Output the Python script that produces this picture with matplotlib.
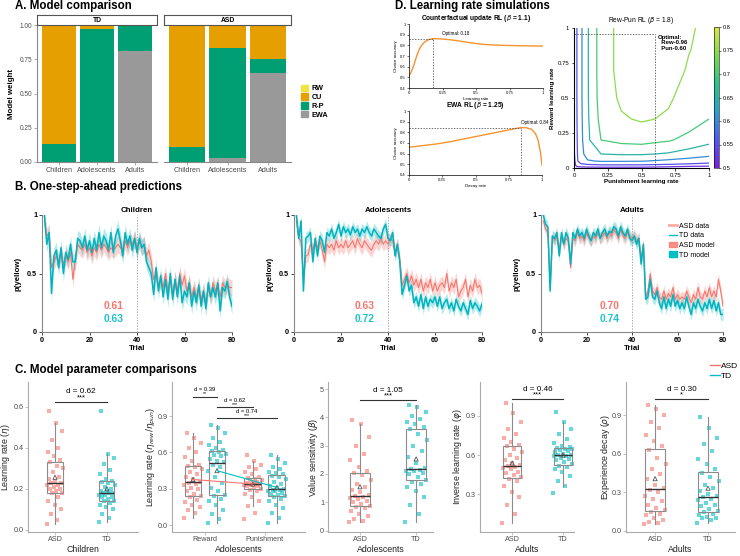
import numpy as np
import matplotlib
matplotlib.use("Agg")
import matplotlib.pyplot as plt
from matplotlib.colors import LinearSegmentedColormap, Normalize
from matplotlib.cm import ScalarMappable
from matplotlib.lines import Line2D
from matplotlib.patches import Patch

plt.rcParams['font.family'] = ['Liberation Sans', 'DejaVu Sans']
plt.rcParams['mathtext.fontset'] = 'dejavusans'

# ---------------- data ----------------
# A. model weights, per age group (Children, Adolescents, Adults)
age_groups = ['Children', 'Adolescents', 'Adults']
model_names = ['EWA', 'R-P', 'CU', 'RW']  # stacked bottom -> top
model_colors = ['#999999', '#009E73', '#E69F00', '#F0E442']
td_ewa = [0.0, 0.0, 0.81]
td_rp = [0.13, 0.97, 0.18]
td_cu = [0.87, 0.02, 0.01]
td_rw = [0.0, 0.01, 0.0]
asd_ewa = [0.0, 0.03, 0.65]
asd_rp = [0.11, 0.80, 0.10]
asd_cu = [0.89, 0.17, 0.24]
asd_rw = [0.0, 0.0, 0.01]

# D. simulations
cf_rate = [0, 0.02, 0.04, 0.06, 0.08, 0.1, 0.12, 0.15, 0.18, 0.21, 0.25, 0.3,
           0.35, 0.4, 0.45, 0.5, 0.55, 0.6, 0.7, 0.8, 0.9, 1.0]
cf_acc = [0.51, 0.56, 0.63, 0.71, 0.77, 0.81, 0.835, 0.855, 0.863, 0.862, 0.859, 0.853,
          0.845, 0.836, 0.826, 0.817, 0.81, 0.805, 0.80, 0.797, 0.795, 0.793]
ewa_decay = [0, 0.1, 0.2, 0.3, 0.4, 0.5, 0.6, 0.7, 0.78, 0.84, 0.88, 0.92, 0.95, 0.97, 0.99, 1.0]
ewa_acc = [0.66, 0.675, 0.69, 0.71, 0.735, 0.76, 0.785, 0.81, 0.83, 0.845, 0.843, 0.83,
           0.79, 0.73, 0.6, 0.49]
pun_grid = [0, 0.02, 0.05, 0.1, 0.2, 0.35, 0.5, 0.7, 0.85, 1.0]
rew_grid = [0, 0.02, 0.05, 0.1, 0.2, 0.35, 0.5, 0.7, 0.85, 1.0]
rewpun_acc = [
    [0.50, 0.51, 0.51, 0.51, 0.51, 0.51, 0.51, 0.505, 0.50, 0.50],
    [0.505, 0.53, 0.535, 0.54, 0.545, 0.545, 0.545, 0.54, 0.535, 0.53],
    [0.51, 0.54, 0.575, 0.595, 0.605, 0.605, 0.603, 0.59, 0.58, 0.57],
    [0.515, 0.543, 0.58, 0.625, 0.65, 0.655, 0.655, 0.645, 0.63, 0.615],
    [0.52, 0.545, 0.585, 0.64, 0.70, 0.715, 0.72, 0.705, 0.685, 0.665],
    [0.525, 0.547, 0.588, 0.643, 0.715, 0.745, 0.755, 0.745, 0.725, 0.70],
    [0.53, 0.548, 0.59, 0.645, 0.722, 0.758, 0.77, 0.755, 0.735, 0.715],
    [0.53, 0.548, 0.59, 0.645, 0.725, 0.765, 0.78, 0.772, 0.745, 0.725],
    [0.53, 0.548, 0.59, 0.645, 0.725, 0.765, 0.785, 0.778, 0.752, 0.735],
    [0.53, 0.548, 0.59, 0.645, 0.725, 0.765, 0.785, 0.78, 0.755, 0.74],
]
contour_levels = [0.52, 0.55, 0.6, 0.65, 0.7, 0.75]
opt_rew, opt_pun = 0.96, 0.60

# B. p(yellow) per trial
children_asd = [0.95, 0.82, 0.85, 0.55, 0.6, 0.65, 0.6, 0.68, 0.58, 0.65,
                0.6, 0.68, 0.45, 0.62, 0.75, 0.72, 0.7, 0.75, 0.68, 0.72,
                0.65, 0.72, 0.68, 0.75, 0.7, 0.75, 0.72, 0.68, 0.72, 0.7,
                0.72, 0.75, 0.72, 0.7, 0.78, 0.72, 0.78, 0.75, 0.8, 0.72,
                0.78, 0.72, 0.75, 0.65, 0.7, 0.6, 0.45, 0.5, 0.4, 0.45,
                0.38, 0.5, 0.35, 0.45, 0.32, 0.45, 0.35, 0.5, 0.4, 0.48,
                0.35, 0.42, 0.3, 0.38, 0.3, 0.38, 0.28, 0.35, 0.25, 0.38,
                0.3, 0.42, 0.35, 0.4, 0.3, 0.42, 0.38, 0.4, 0.38, 0.38]
children_td = [1.0, 0.75, 0.85, 0.33, 0.65, 0.7, 0.55, 0.72, 0.5, 0.68,
               0.62, 0.75, 0.6, 0.6, 0.8, 0.78, 0.72, 0.82, 0.7, 0.78,
               0.68, 0.8, 0.7, 0.85, 0.72, 0.82, 0.78, 0.7, 0.85, 0.68,
               0.82, 0.88, 0.78, 0.65, 0.85, 0.75, 0.82, 0.7, 0.8, 0.68,
               0.8, 0.72, 0.75, 0.6, 0.55, 0.5, 0.32, 0.55, 0.35, 0.48,
               0.3, 0.45, 0.28, 0.5, 0.28, 0.45, 0.3, 0.48, 0.25, 0.35,
               0.3, 0.42, 0.22, 0.35, 0.25, 0.4, 0.22, 0.35, 0.2, 0.42,
               0.3, 0.38, 0.3, 0.42, 0.18, 0.38, 0.35, 0.43, 0.3, 0.22]
adol_asd = [0.95, 0.8, 0.78, 0.45, 0.65, 0.66, 0.75, 0.7, 0.78, 0.72,
            0.78, 0.7, 0.6, 0.75, 0.72, 0.75, 0.7, 0.78, 0.72, 0.75,
            0.72, 0.78, 0.72, 0.75, 0.78, 0.72, 0.8, 0.75, 0.72, 0.78,
            0.75, 0.72, 0.7, 0.75, 0.78, 0.75, 0.8, 0.75, 0.78, 0.75,
            0.8, 0.78, 0.68, 0.75, 0.62, 0.4, 0.45, 0.5, 0.42, 0.48,
            0.4, 0.45, 0.38, 0.45, 0.35, 0.42, 0.38, 0.45, 0.35, 0.42,
            0.35, 0.4, 0.42, 0.38, 0.5, 0.35, 0.42, 0.38, 0.45, 0.3,
            0.35, 0.38, 0.45, 0.3, 0.4, 0.35, 0.45, 0.38, 0.4, 0.33]
adol_td = [1.0, 0.8, 0.95, 0.35, 0.8, 0.82, 0.85, 0.6, 0.8, 0.65,
           0.82, 0.78, 0.68, 0.85, 0.82, 0.88, 0.8, 0.85, 0.92, 0.82,
           0.9, 0.85, 0.88, 0.83, 0.9, 0.85, 0.88, 0.82, 0.88, 0.85,
           0.9, 0.85, 0.82, 0.88, 0.85, 0.82, 0.8, 0.88, 0.92, 0.8,
           0.78, 0.85, 0.65, 0.75, 0.6, 0.32, 0.4, 0.48, 0.35, 0.4,
           0.25, 0.3, 0.22, 0.32, 0.2, 0.3, 0.22, 0.28, 0.25, 0.3,
           0.22, 0.3, 0.2, 0.25, 0.28, 0.2, 0.25, 0.18, 0.28, 0.22,
           0.18, 0.25, 0.2, 0.15, 0.27, 0.2, 0.25, 0.22, 0.18, 0.24]
adult_asd = [0.95, 0.88, 0.85, 0.4, 0.82, 0.78, 0.82, 0.7, 0.82, 0.75,
             0.8, 0.78, 0.55, 0.8, 0.78, 0.85, 0.8, 0.82, 0.78, 0.85,
             0.8, 0.78, 0.82, 0.8, 0.85, 0.8, 0.82, 0.85, 0.8, 0.85,
             0.82, 0.88, 0.85, 0.8, 0.88, 0.82, 0.8, 0.85, 0.82, 0.8,
             0.82, 0.78, 0.8, 0.62, 0.75, 0.3, 0.35, 0.5, 0.35, 0.32,
             0.38, 0.3, 0.28, 0.35, 0.28, 0.33, 0.3, 0.38, 0.28, 0.32,
             0.28, 0.3, 0.28, 0.35, 0.3, 0.25, 0.32, 0.28, 0.38, 0.3,
             0.28, 0.35, 0.3, 0.38, 0.3, 0.35, 0.3, 0.45, 0.35, 0.22]
adult_td = [1.0, 0.92, 0.9, 0.35, 0.82, 0.8, 0.85, 0.65, 0.85, 0.75,
            0.85, 0.8, 0.58, 0.85, 0.8, 0.88, 0.82, 0.85, 0.8, 0.88,
            0.82, 0.78, 0.85, 0.82, 0.88, 0.8, 0.85, 0.88, 0.82, 0.86,
            0.85, 0.9, 0.88, 0.82, 0.9, 0.85, 0.82, 0.88, 0.8, 0.78,
            0.82, 0.75, 0.8, 0.58, 0.75, 0.28, 0.3, 0.45, 0.3, 0.28,
            0.35, 0.25, 0.2, 0.3, 0.2, 0.28, 0.22, 0.32, 0.22, 0.27,
            0.2, 0.25, 0.2, 0.3, 0.22, 0.15, 0.25, 0.2, 0.28, 0.22,
            0.18, 0.25, 0.2, 0.28, 0.2, 0.27, 0.18, 0.25, 0.15, 0.15]
band_asd = [0.07, 0.06, 0.05]
band_td = [0.07, 0.05, 0.05]
acc_asd = ['0.61', '0.63', '0.70']
acc_td = ['0.63', '0.72', '0.74']

# C. parameter estimates
c1_asd = [0.03, 0.05, 0.08, 0.10, 0.12, 0.14, 0.16, 0.18, 0.18, 0.19, 0.20, 0.20, 0.21, 0.22, 0.22, 0.23,
          0.23, 0.24, 0.25, 0.26, 0.28, 0.30, 0.31, 0.33, 0.34, 0.36, 0.38, 0.40, 0.44, 0.48, 0.52, 0.58]
c1_td = [0.04, 0.06, 0.08, 0.10, 0.11, 0.12, 0.13, 0.14, 0.14, 0.15, 0.16, 0.16, 0.17, 0.17, 0.18, 0.18,
         0.18, 0.19, 0.19, 0.20, 0.21, 0.22, 0.23, 0.235, 0.24, 0.25, 0.27, 0.29, 0.32, 0.35, 0.37, 0.58]
c2_rew_asd = [0.06, 0.10, 0.13, 0.15, 0.17, 0.19, 0.21, 0.23, 0.24, 0.26, 0.28, 0.30, 0.31, 0.33, 0.34, 0.35,
              0.36, 0.38, 0.40, 0.42, 0.44, 0.46, 0.48, 0.49, 0.50, 0.53, 0.56, 0.60, 0.64, 0.68, 0.72, 0.76]
c2_rew_td = [0.02, 0.05, 0.09, 0.13, 0.17, 0.20, 0.22, 0.24, 0.25, 0.28, 0.31, 0.35, 0.40, 0.45, 0.48, 0.50,
             0.52, 0.53, 0.55, 0.57, 0.58, 0.59, 0.60, 0.61, 0.62, 0.64, 0.66, 0.69, 0.72, 0.76, 0.80, 0.83]
c2_pun_asd = [0.05, 0.10, 0.16, 0.20, 0.23, 0.26, 0.28, 0.29, 0.30, 0.31, 0.32, 0.32, 0.33, 0.33, 0.34, 0.34,
              0.34, 0.35, 0.35, 0.36, 0.37, 0.37, 0.38, 0.39, 0.40, 0.42, 0.44, 0.46, 0.48, 0.50, 0.53, 0.58]
c2_pun_td = [0.02, 0.06, 0.10, 0.14, 0.17, 0.20, 0.22, 0.23, 0.24, 0.25, 0.26, 0.27, 0.28, 0.28, 0.29, 0.29,
             0.30, 0.31, 0.32, 0.34, 0.36, 0.38, 0.40, 0.41, 0.42, 0.43, 0.44, 0.46, 0.48, 0.51, 0.55, 0.58]
c3_asd = [0.30, 0.35, 0.40, 0.50, 0.60, 0.70, 0.80, 0.85, 0.88, 0.95, 1.00, 1.05, 1.10, 1.15, 1.20, 1.22,
          1.25, 1.35, 1.45, 1.55, 1.65, 1.80, 1.95, 2.02, 2.10, 2.25, 2.50, 2.70, 3.00, 3.30, 3.75, 3.90]
c3_td = [0.30, 0.60, 0.90, 1.20, 1.40, 1.55, 1.65, 1.70, 1.80, 1.90, 2.00, 2.05, 2.10, 2.12, 2.15, 2.18,
         2.20, 2.40, 2.60, 2.80, 3.00, 3.20, 3.40, 3.58, 3.65, 3.75, 3.85, 3.95, 4.05, 4.20, 4.35, 4.45]
c4_asd = [0.08, 0.15, 0.22, 0.28, 0.32, 0.36, 0.40, 0.42, 0.43, 0.45, 0.46, 0.47, 0.49, 0.50, 0.51, 0.515,
          0.52, 0.54, 0.56, 0.58, 0.60, 0.62, 0.65, 0.67, 0.68, 0.70, 0.73, 0.76, 0.80, 0.85, 0.92, 1.00]
c4_td = [0.31, 0.36, 0.40, 0.44, 0.47, 0.49, 0.51, 0.515, 0.53, 0.55, 0.56, 0.57, 0.58, 0.59, 0.595, 0.60,
         0.60, 0.61, 0.62, 0.63, 0.64, 0.645, 0.65, 0.655, 0.66, 0.67, 0.69, 0.72, 0.76, 0.80, 0.85, 0.93]
c5_asd = [0.05, 0.06, 0.07, 0.08, 0.10, 0.12, 0.13, 0.145, 0.16, 0.18, 0.20, 0.23, 0.25, 0.27, 0.30, 0.32,
          0.33, 0.36, 0.40, 0.44, 0.48, 0.52, 0.57, 0.63, 0.66, 0.70, 0.75, 0.80, 0.85, 0.90, 0.95, 0.98]
c5_td = [0.06, 0.08, 0.10, 0.10, 0.11, 0.12, 0.13, 0.145, 0.15, 0.17, 0.19, 0.20, 0.22, 0.24, 0.25, 0.26,
         0.27, 0.29, 0.31, 0.33, 0.36, 0.39, 0.42, 0.45, 0.48, 0.52, 0.56, 0.62, 0.68, 0.72, 0.80, 0.89]

ASD = '#F8766D'
TD = '#00BFC4'
W, H = 740, 556


def box(x0, y0, x1, y1):
    return [x0 / W, 1 - y1 / H, (x1 - x0) / W, (y1 - y0) / H]


fig = plt.figure(figsize=(7.4, 5.56), dpi=100)

# ---------------- A. Model comparison ----------------
fig.text(15 / W, 1 - 6 / H, 'A. Model comparison', fontsize=8.3, weight='bold', va='center')
for k, (name, stacks, x0, x1) in enumerate([
        ('TD', [td_ewa, td_rp, td_cu, td_rw], 37, 157),
        ('ASD', [asd_ewa, asd_rp, asd_cu, asd_rw], 164, 291)]):
    ax = fig.add_axes(box(x0, 25, x1, 162))
    xpos = np.arange(len(age_groups))
    bottom = np.zeros(len(age_groups))
    for vals, col in zip(stacks, model_colors):
        ax.bar(xpos, vals, bottom=bottom, width=0.9, color=col, lw=0)
        bottom += np.array(vals)
    ax.set_xlim(-0.57, 2.57)
    ax.set_ylim(0, 1)
    ax.set_xticks(xpos)
    ax.set_xticklabels(age_groups, fontsize=5.2, color='#4D4D4D')
    for s in ['top', 'right']:
        ax.spines[s].set_visible(False)
    ax.spines['bottom'].set_color('#888888')
    ax.spines['left'].set_color('#888888')
    ax.tick_params(length=2, width=0.5, color='#888888', pad=1.5)
    if k == 0:
        ax.set_yticks([0, 0.25, 0.5, 0.75, 1.0])
        ax.set_yticklabels(['0.00', '0.25', '0.50', '0.75', '1.00'], fontsize=4.7, color='#4D4D4D')
        ax.set_ylabel('Model weight', fontsize=5.7, weight='bold', labelpad=3)
    else:
        ax.spines['left'].set_visible(False)
        ax.set_yticks([])
    strip = fig.add_axes(box(x0, 15, x1, 25))
    strip.set_xticks([])
    strip.set_yticks([])
    for s in strip.spines.values():
        s.set_color('#555555')
        s.set_linewidth(0.8)
    strip.text(0.5, 0.5, name, ha='center', va='center', fontsize=4.9, weight='bold')

fig.legend([Patch(color=c) for c in model_colors[::-1]], model_names[::-1],
           loc='upper left', bbox_to_anchor=(294 / W, 1 - 78 / H), frameon=False,
           prop={'size': 5.2, 'weight': 'bold'}, handlelength=1.0, handleheight=1.0,
           labelspacing=0.15, handletextpad=0.5)

# ---------------- D. Learning rate simulations ----------------
fig.text(395 / W, 1 - 6 / H, 'D. Learning rate simulations', fontsize=8.3, weight='bold', va='center')
ORANGE = '#F5932F'


def small_curve(rect, xs, ys, title, xlabel):
    ax = fig.add_axes(box(*rect))
    ax.plot(xs, ys, color=ORANGE, lw=1.0)
    i = int(np.argmax(ys))
    ax.plot([xs[i], xs[i]], [0.4, ys[i]], ls=(0, (2, 2)), color='#333333', lw=0.5)
    ax.plot([0, xs[i]], [ys[i], ys[i]], ls=(0, (2, 2)), color='#333333', lw=0.5)
    ax.text(xs[i] + 0.07 if xs[i] < 0.5 else xs[i], ys[i] + 0.025,
            'Optimal: %.2f' % xs[i], fontsize=3.3, va='bottom')
    ax.set_xlim(0, 1)
    ax.set_ylim(0.4, 1)
    ax.set_xticks([0, 0.25, 0.5, 0.75, 1])
    ax.set_xticklabels(['0', '0.25', '0.5', '0.75', '1'])
    ax.set_yticks([0.4, 0.5, 0.6, 0.7, 0.8, 0.9, 1.0])
    ax.set_yticklabels(['0.4', '0.5', '0.6', '0.7', '0.8', '0.9', '1'])
    ax.tick_params(labelsize=3, length=1.5, width=0.4, pad=1)
    for s in ['top', 'right']:
        ax.spines[s].set_visible(False)
    for s in ['left', 'bottom']:
        ax.spines[s].set_linewidth(0.5)
    ax.set_title(title, fontsize=4.8, weight='bold', pad=3)
    ax.set_xlabel(xlabel, fontsize=3.2, labelpad=1)
    ax.set_ylabel('Choice accuracy', fontsize=3.2, labelpad=1)


small_curve((409, 24, 543, 88), cf_rate, cf_acc, r'Counterfactual update RL ($\beta$ = 1.1)', 'Learning rate')
small_curve((409, 111, 542, 175), ewa_decay, ewa_acc, r'EWA RL ($\beta$ = 1.25)', 'Decay rate')

cmap = LinearSegmentedColormap.from_list('acc', ['#7B1FD9', '#4F5BF0', '#2AA3C8', '#2DC38A', '#7DDA4E', '#D9E64A'])
norm = Normalize(0.5, 0.8)
axc = fig.add_axes(box(574, 28, 709, 168))
axc.contour(pun_grid, rew_grid, np.array(rewpun_acc), levels=contour_levels, cmap=cmap, norm=norm,
            linewidths=0.9)
axc.plot([opt_pun, opt_pun], [0, opt_rew], ls=(0, (2, 2)), color='#333333', lw=0.5)
axc.plot([0, opt_pun], [opt_rew, opt_rew], ls=(0, (2, 2)), color='#333333', lw=0.5)
axc.text(opt_pun + 0.02, opt_rew - 0.01, 'Optimal:\n  Rew-%.2f\n  Pun-%.2f' % (opt_rew, opt_pun),
         fontsize=4.3, weight='bold', va='top', linespacing=1.1)
axc.set_xlim(0, 1)
axc.set_ylim(0, 1)
axc.set_xticks([0, 0.25, 0.5, 0.75, 1])
axc.set_xticklabels(['0', '0.25', '0.5', '0.75', '1'])
axc.set_yticks([0, 0.25, 0.5, 0.75, 1])
axc.set_yticklabels(['0', '0.25', '0.5', '0.75', '1'])
axc.tick_params(labelsize=4.3, length=1.8, width=0.5, pad=1.5)
for s in ['top', 'right']:
    axc.spines[s].set_visible(False)
axc.set_title(r'Rew-Pun RL ($\beta$ = 1.8)', fontsize=4.8, pad=4)
axc.set_xlabel('Punishment learning rate', fontsize=4.5, weight='bold', labelpad=1)
axc.set_ylabel('Reward learning rate', fontsize=4.5, weight='bold', labelpad=2)
cax = fig.add_axes(box(714, 27, 719, 168))
cb = fig.colorbar(ScalarMappable(norm=norm, cmap=cmap), cax=cax, ticks=[0.5, 0.55, 0.6, 0.65, 0.7, 0.75, 0.8])
cb.ax.set_yticklabels(['0.5', '0.55', '0.6', '0.65', '0.7', '0.75', '0.8'])
cb.ax.tick_params(labelsize=4.1, length=1.5, width=0.4, pad=1.5)
cb.outline.set_linewidth(0.4)

# ---------------- B. One-step-ahead predictions ----------------
fig.text(15 / W, 1 - 187 / H, 'B. One-step-ahead predictions', fontsize=8.3, weight='bold', va='center')
trials = np.arange(1, 81)
b_panels = [('Children', children_asd, children_td, (42, 215, 232, 332)),
            ('Adolescents', adol_asd, adol_td, (294, 215, 482, 332)),
            ('Adults', adult_asd, adult_td, (541, 215, 723, 332))]
for k, (title, asd_y, td_y, rect) in enumerate(b_panels):
    ax = fig.add_axes(box(*rect))
    a = np.array(asd_y)
    t = np.array(td_y)
    ax.fill_between(trials, a - band_asd[k], a + band_asd[k], color=ASD, alpha=0.3, lw=0)
    ax.fill_between(trials, t - band_td[k], t + band_td[k], color=TD, alpha=0.3, lw=0)
    ax.plot(trials, a, color=ASD, lw=0.8)
    ax.plot(trials, t, color='#00B3BE', lw=1.1)
    ax.axvline(40, color='#888888', ls=(0, (2, 2)), lw=0.5)
    ax.text(30, 0.22, acc_asd[k], color=ASD, fontsize=7.4, weight='bold', ha='center', va='center')
    ax.text(30, 0.11, acc_td[k], color='#1CC3C9', fontsize=7.4, weight='bold', ha='center', va='center')
    ax.set_xlim(0, 80)
    ax.set_ylim(0, 1)
    ax.set_xticks([0, 20, 40, 60, 80])
    ax.set_yticks([0, 0.5, 1])
    ax.set_yticklabels(['0', '0.5', '1'])
    ax.tick_params(labelsize=5.2, length=2, width=0.5, pad=1.5)
    for lab in ax.get_xticklabels() + ax.get_yticklabels():
        lab.set_weight('bold')
    for s in ['top', 'right']:
        ax.spines[s].set_visible(False)
    for s in ['left', 'bottom']:
        ax.spines[s].set_color('#888888')
        ax.spines[s].set_linewidth(0.8)
    ax.set_xlabel('Trial', fontsize=5.7, weight='bold', labelpad=1)
    ax.set_ylabel('p(yellow)', fontsize=5.7, weight='bold', labelpad=4)
    ax.set_title(title, fontsize=5.7, weight='bold', pad=2)

fig.legend([Line2D([], [], color=ASD, lw=2, alpha=0.6), Line2D([], [], color=TD, lw=1),
            Patch(color=ASD, alpha=0.8), Patch(color=TD)],
           ['ASD data', 'TD data', 'ASD model', 'TD model'],
           loc='upper left', bbox_to_anchor=(663 / W, 1 - 216 / H), frameon=False,
           fontsize=5, handlelength=1.1, handleheight=0.9, labelspacing=0.35, handletextpad=0.3)

# ---------------- C. Model parameter comparisons ----------------
fig.text(15 / W, 1 - 370 / H, 'C. Model parameter comparisons', fontsize=8.3, weight='bold', va='center')
C_TOP, C_BOT = 382, 532


def jitter(n, w):
    return w * ((((np.arange(n) * 0.618034) % 1.0) * 2) - 1)


def param_panel(x0, x1, ylab_px, groups, positions, colors, width, xlim, ylim, yticks, yfmt, ylabel,
                xticks, xticklabels, xlabel):
    ax = fig.add_axes(box(x0, C_TOP, x1, C_BOT))
    for vals, p, c in zip(groups, positions, colors):
        ax.scatter(p + jitter(len(vals), width * 0.55), vals, s=6, marker='s', color=c,
                   alpha=0.6, lw=0, zorder=2)
    ax.boxplot(groups, positions=positions, widths=width, showfliers=False, patch_artist=True,
               boxprops=dict(facecolor='none', edgecolor='#8C8C8C', lw=0.8),
               whiskerprops=dict(color='#8C8C8C', lw=0.8), capprops=dict(visible=False),
               medianprops=dict(color='#333333', lw=1.0), zorder=3)
    ax.scatter(positions, [np.mean(v) for v in groups], marker='^', facecolor='none',
               edgecolor='#555555', s=9, lw=0.6, zorder=4)
    ax.set_xlim(*xlim)
    ax.set_ylim(*ylim)
    ax.set_yticks(yticks)
    ax.set_yticklabels([yfmt % v for v in yticks])
    ax.set_xticks(xticks)
    ax.set_xticklabels(xticklabels)
    ax.tick_params(labelsize=5.2, length=2, width=0.5, color='#AAAAAA', labelcolor='#4D4D4D', pad=0.8)
    for s in ['top', 'right']:
        ax.spines[s].set_visible(False)
    for s in ['left', 'bottom']:
        ax.spines[s].set_color('#AAAAAA')
        ax.spines[s].set_linewidth(0.8)
    ax.set_ylabel(ylabel, fontsize=6.4, color='#222222')
    ax.yaxis.set_label_coords((ylab_px + 5.5 - x0) / (x1 - x0), 0.5)
    ax.set_xlabel(xlabel, fontsize=6.3, color='#222222')
    ax.xaxis.set_label_coords(0.5, (C_BOT - 544.5) / (C_BOT - C_TOP))
    return ax


def bracket(ax, x1, x2, y, stars, dtext, size=5.9):
    ax.plot([x1, x2], [y, y], color='#333333', lw=0.8)
    ax.annotate(stars, ((x1 + x2) / 2, y), xytext=(0, 0.2), textcoords='offset points',
                ha='center', va='bottom', fontsize=size * 0.9)
    ax.annotate(dtext, ((x1 + x2) / 2, y), xytext=(0, 4.4 * size / 5.9), textcoords='offset points',
                ha='center', va='bottom', fontsize=size)


ax1 = param_panel(28, 138, 6.5, [c1_asd, c1_td], [1, 2], [ASD, TD], 0.29, (0.48, 2.6),
                  (-0.01, 0.72), [0, 0.2, 0.4, 0.6], '%.1f', r'Learning rate ($\eta$)',
                  [1, 2], ['ASD', 'TD'], 'Children')
bracket(ax1, 1, 2, 0.625, '***', 'd = 0.62')

c2_groups = [c2_rew_asd, c2_rew_td, c2_pun_asd, c2_pun_td]
c2_pos = [0.8, 1.2, 1.8, 2.2]
ax2 = param_panel(172, 305, 152, c2_groups, c2_pos, [ASD, TD, ASD, TD], 0.28, (0.45, 2.67),
                  (-0.055, 1.18), [0, 0.3, 0.6, 0.9], '%.1f', r'Learning rate ($\eta_{rew}/\eta_{pun}$)',
                  [1, 2], ['Reward', 'Punishment'], 'Adolescents')
ax2.plot([0.8, 1.8], [np.mean(c2_rew_asd), np.mean(c2_pun_asd)], color=ASD, lw=0.8, zorder=5)
ax2.plot([1.2, 2.2], [np.mean(c2_rew_td), np.mean(c2_pun_td)], color=TD, lw=0.8, zorder=5)
bracket(ax2, 0.8, 1.2, 1.06, '**', 'd = 0.39', size=4.2)
bracket(ax2, 1.2, 1.8, 0.975, '***', 'd = 0.62', size=4.2)
bracket(ax2, 1.2, 2.2, 0.88, '***', 'd = 0.74', size=4.2)

ax3 = param_panel(328, 433, 315, [c3_asd, c3_td], [1, 2], [ASD, TD], 0.36, (0.43, 2.3),
                  (-0.05, 5.25), [0, 1, 2, 3, 4, 5], '%d', r'Value sensitivity ($\beta$)',
                  [1, 2], ['ASD', 'TD'], 'Adolescents')
bracket(ax3, 1, 2, 4.62, '***', 'd = 1.05')

ax4 = param_panel(480, 574, 458, [c4_asd, c4_td], [1, 2], [ASD, TD], 0.36, (0.36, 2.22),
                  (0.01, 1.16), [0.3, 0.6, 0.9], '%.1f', r'Inverse learning rate ($\varphi$)',
                  [1, 2], ['ASD', 'TD'], 'Adults')
bracket(ax4, 1, 2, 1.03, '***', 'd = 0.46')

ax5 = param_panel(626, 735, 606, [c5_asd, c5_td], [1, 2], [ASD, TD], 0.38, (0.45, 2.51),
                  (-0.01, 1.16), [0, 0.3, 0.6, 0.9], '%.1f', r'Experience decay ($\rho$)',
                  [1, 2], ['ASD', 'TD'], 'Adults')
bracket(ax5, 1, 2, 1.03, '*', 'd = 0.30')

fig.legend([Line2D([], [], color=ASD, lw=1), Line2D([], [], color=TD, lw=1)], ['ASD', 'TD'],
           loc='upper left', bbox_to_anchor=(702 / W, 1 - 355 / H), frameon=False,
           fontsize=6, handlelength=1.2, labelspacing=0.2, handletextpad=0.2)

fig.savefig('out.png', dpi=100)
